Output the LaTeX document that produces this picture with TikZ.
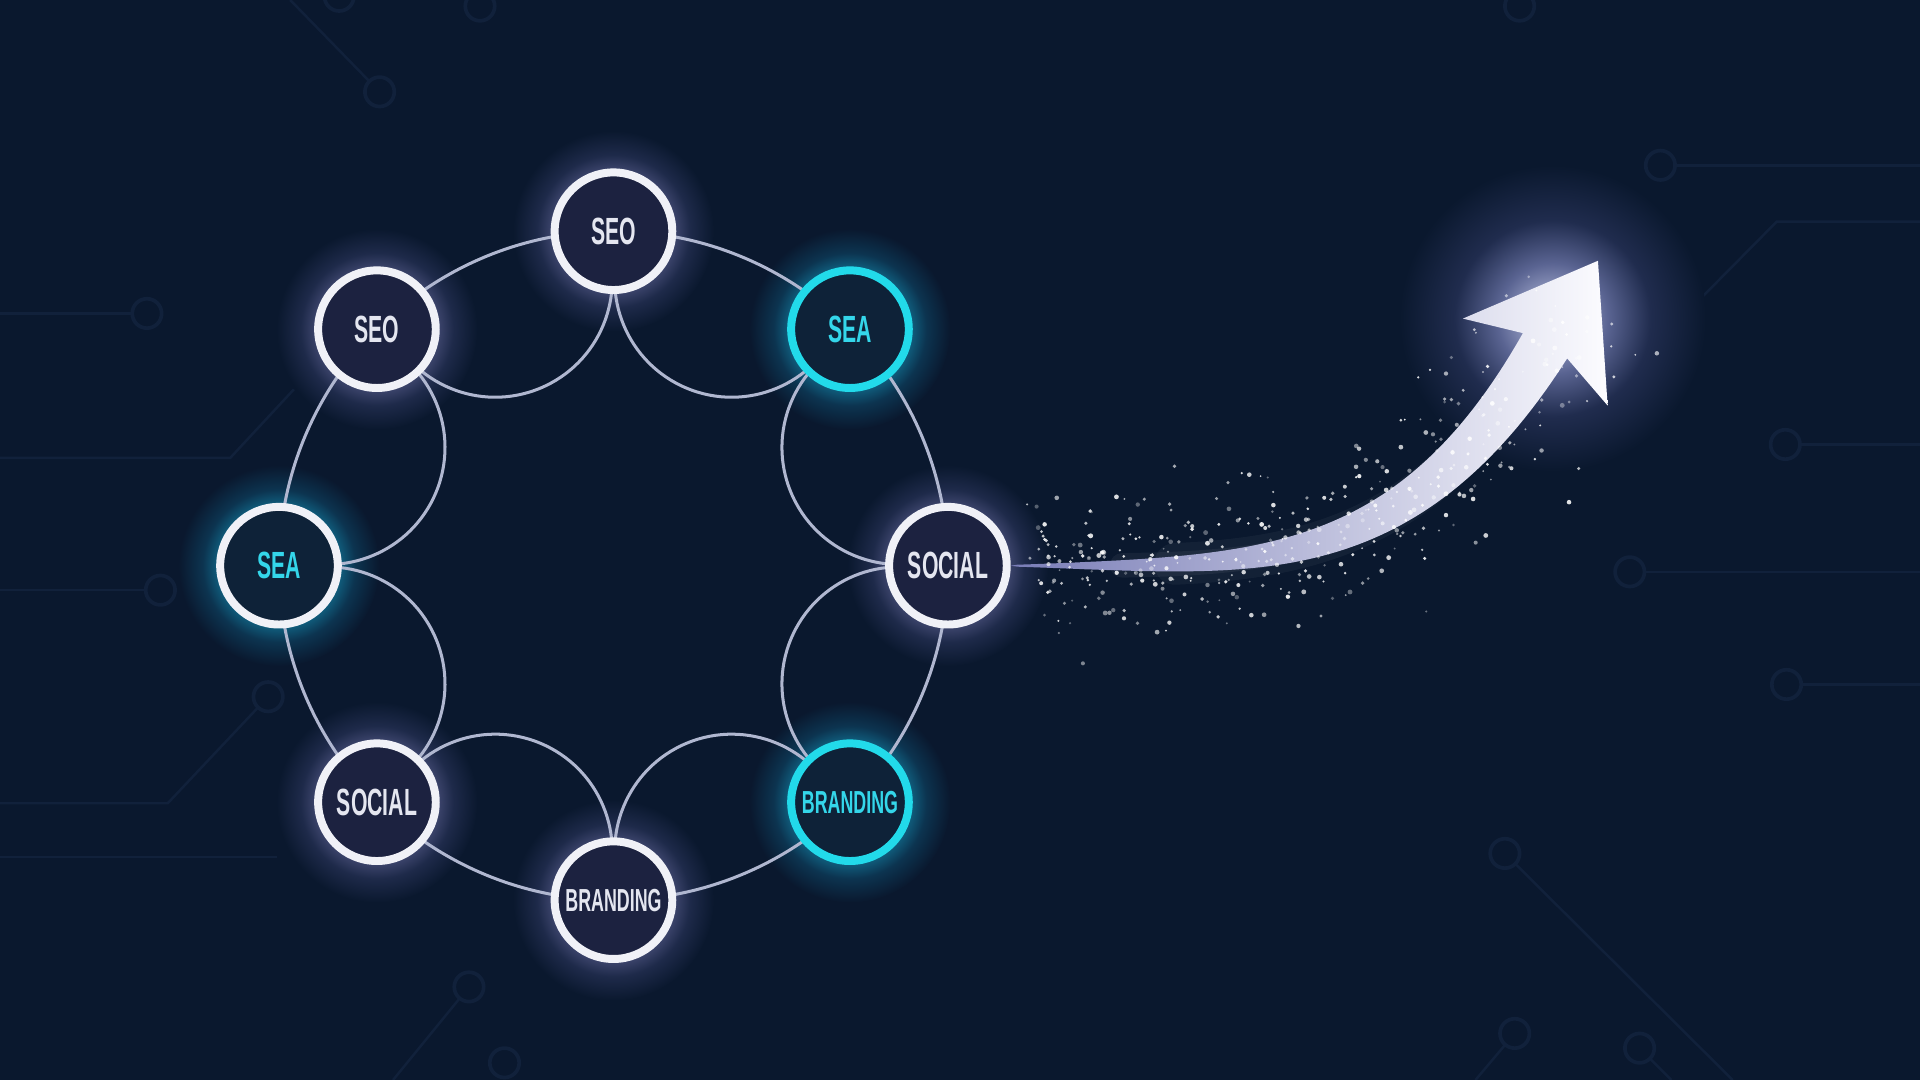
\documentclass[tikz,border=0pt]{standalone}
\usepackage{fontspec}
\newfontfamily\lab[FakeStretch=0.56]{Liberation Sans Bold}
\usetikzlibrary{calc}
\definecolor{bg}{RGB}{10,24,46}
\definecolor{traceC}{RGB}{17,33,59}
\definecolor{ringC}{RGB}{176,183,208}
\definecolor{ringW}{RGB}{240,241,247}
\definecolor{cyanR}{RGB}{34,218,234}
\definecolor{txtW}{RGB}{228,230,240}
\definecolor{txtC}{RGB}{52,214,234}
\definecolor{fillW}{RGB}{28,34,64}
\definecolor{fillC}{RGB}{14,34,56}
\definecolor{wgl}{RGB}{62,70,110}
\definecolor{wgl2}{RGB}{30,42,74}
\definecolor{cgl}{RGB}{16,96,128}
\definecolor{cgl2}{RGB}{12,52,80}
\definecolor{agl}{RGB}{200,206,236}
\definecolor{agl2}{RGB}{90,100,146}
\definecolor{agl3}{RGB}{32,44,78}
\definecolor{arrL}{RGB}{120,124,182}
\definecolor{arrM}{RGB}{200,204,234}
\definecolor{arrR}{RGB}{252,252,255}
\pgfdeclareradialshading{wglow}{\pgfpoint{0bp}{0bp}}{color(0bp)=(wgl); color(15bp)=(wgl); color(19bp)=(wgl2); color(25bp)=(bg); color(50bp)=(bg)}
\pgfdeclareradialshading{cglow}{\pgfpoint{0bp}{0bp}}{color(0bp)=(cgl); color(15bp)=(cgl); color(19bp)=(cgl2); color(25bp)=(bg); color(50bp)=(bg)}
\pgfdeclareradialshading{aglow}{\pgfpoint{0bp}{0bp}}{color(0bp)=(agl); color(9bp)=(agl2); color(16bp)=(agl3); color(25bp)=(bg); color(50bp)=(bg)}
\pgfdeclarelayer{under}
\pgfdeclarelayer{links}
\pgfsetlayers{under,links,main}
\tikzset{
  trace/.style={draw=traceC, line width=0.02cm},
  tcirc/.style={draw=traceC, fill=bg, line width=0.03cm},
  ringline/.style={draw=ringC, line width=0.7pt},
  wnode/.style={circle, draw=ringW, line width=0.065cm, fill=fillW, minimum size=0.96cm,
    inner sep=0pt, text=txtW, font=\lab\fontsize{8.8}{9}\selectfont},
  cnode/.style={wnode, draw=cyanR, fill=fillC, text=txtC},
  ctext/.style={text=txtC, fill=fillC},
  small/.style={font=\lab\fontsize{7.4}{8}\selectfont},
  declare function={cw(\u)=0.8+20*\u^1.1; cs(\u)=1.6667*\u^3; cn(\u)=sqrt(1+cs(\u)^2);}
}
\begin{document}
\begin{tikzpicture}[x=0.01cm,y=0.01cm]
\useasboundingbox (0,0) rectangle (1568,882);
\begin{pgfonlayer}{under}
  \fill[bg] (0,0) rectangle (1568,882);
  % faint circuit traces
  \draw[trace] (237,882) -- (310,807);
  \draw[trace] (0,626) -- (120,626);
  \draw[trace] (0,508) -- (188,508) -- (240,564);
  \draw[trace] (0,400) -- (131,400);
  \draw[trace] (0,226) -- (137,226) -- (219,313);
  \draw[trace] (0,182) -- (226,182);
  \draw[trace] (321,0) -- (383,76);
  \draw[trace] (1356,747) -- (1568,747);
  \draw[trace] (1568,701) -- (1451,701) -- (1361,610);
  \draw[trace] (1458,519) -- (1568,519);
  \draw[trace] (1331,415) -- (1568,415);
  \draw[trace] (1459,323) -- (1568,323);
  \draw[trace] (1229,185) -- (1415,0);
  \draw[trace] (1237,38) -- (1205,0);
  \draw[trace] (1339,26) -- (1365,0);
  \foreach \p in {(310,807),(392,877),(277,885),(120,626),(131,400),(219,313),(383,76),(412,14),
                  (1356,747),(1361,610),(1241,877),(1458,519),(1331,415),(1459,323),(1229,185),(1237,38),(1339,26)}
    \draw[tcirc] \p circle[radius=0.12cm];
  % arrow halo
  \shade[shading=aglow] (1268,622) circle[radius=1.25cm];
\end{pgfonlayer}

\coordinate (C) at (501,420);
\node[wnode] (seoT)  at ($(C)+(90:2.73cm)$)   {SEO};
\node[cnode] (seaTR) at ($(C)+(45:2.73cm)$)   {SEA};
\node[wnode] (socR)  at ($(C)+(0:2.73cm)$)    {SOCIAL};
\node[cnode,small] (brBR) at ($(C)+(-45:2.73cm)$) {BRANDING};
\node[wnode,small] (brB)  at ($(C)+(-90:2.73cm)$) {BRANDING};
\node[wnode] (socBL) at ($(C)+(-135:2.73cm)$) {SOCIAL};
\node[wnode,ctext] (seaL) at ($(C)+(180:2.73cm)$) {SEA};
\node[wnode] (seoTL) at ($(C)+(135:2.73cm)$)  {SEO};

\begin{pgfonlayer}{under}
  \foreach \n in {seoT,socR,brB,socBL,seoTL}
    \shade[shading=wglow] (\n) circle[radius=0.82cm];
  \foreach \n in {seaTR,brBR,seaL}
    \shade[shading=cglow] (\n) circle[radius=0.82cm];
\end{pgfonlayer}

\begin{pgfonlayer}{links}
  \foreach \p/\q/\a in {seoT/seaTR/45, seaTR/socR/0, socR/brBR/-45, brBR/brB/-90,
                        brB/socBL/-135, socBL/seaL/-180, seaL/seoTL/135, seoTL/seoT/90}{
    \draw[ringline] (\p.center) arc[start angle=\a+45, end angle=\a, radius=2.73cm];
    \draw[ringline] ($($(\p)!0.5!(\q)$)+(\a+112.5:0.955cm)$)
       arc[start angle=\a+112.5, end angle=\a+292.5, radius=0.955cm];
  }
\end{pgfonlayer}

% soft glow along the arrow body
\draw[white, opacity=0.04, line width=0.34cm, line cap=round]
  plot[variable=\u, domain=0.3:1, samples=40] ({830+432*\u},{420+180*\u^4});
\draw[white, opacity=0.05, line width=0.2cm, line cap=round]
  plot[variable=\u, domain=0.2:1, samples=40] ({830+432*\u},{420+180*\u^4});

% the arrow
\coordinate (hl) at (1194.7,621.8);
\coordinate (tip) at (1305,669);
\coordinate (hr) at (1312.9,550.8);
\shade[left color=arrL, middle color=arrM, right color=arrR]
  (socR.east)
  -- plot[variable=\u, domain=0.002:1, samples=80]
     ({830+432*\u-cw(\u)*cs(\u)/cn(\u)},{420+180*\u^4+cw(\u)/cn(\u)})
  -- (hl) -- (tip) -- (hr)
  -- plot[variable=\u, domain=1:0.002, samples=80]
     ({830+432*\u+cw(\u)*cs(\u)/cn(\u)},{420+180*\u^4-cw(\u)/cn(\u)})
  -- cycle;

% sparkles
\pgfmathsetseed{1234}
\foreach \k in {1,...,420}{
  \pgfmathsetmacro\uu{0.03+1.02*rnd}
  \pgfmathsetmacro\ss{1.6667*\uu^3}
  \pgfmathsetmacro\nn{sqrt(1+\ss*\ss)}
  \pgfmathsetmacro\dd{52*(rnd+rnd+rnd+rnd-2)}
  \pgfmathsetmacro\px{830+432*\uu-\dd*\ss/\nn+10*(rnd-0.5)}
  \pgfmathsetmacro\py{420+180*\uu^4+\dd/\nn}
  \pgfmathsetmacro\rr{0.22+0.35*rnd}
  \pgfmathsetmacro\oo{0.3+0.6*rnd}
  \fill[white, opacity=\oo] (\px,\py) circle[radius=\rr pt];
}
\end{tikzpicture}
\end{document}
